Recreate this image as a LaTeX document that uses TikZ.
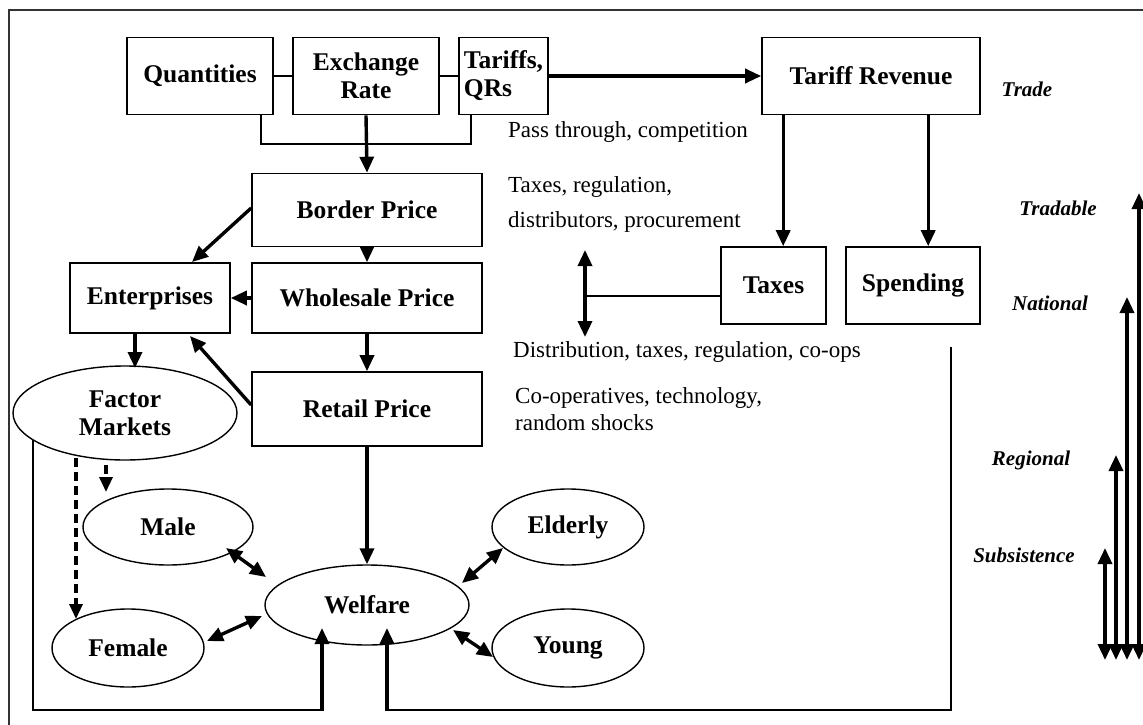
\documentclass[tikz,border=0pt]{standalone}
\usepackage{fontspec}
\setmainfont{Liberation Serif}
\usetikzlibrary{shapes.geometric,arrows.meta,calc}
\newcommand{\bfl}{\fontsize{25.5}{28}\selectfont\bfseries}
\newcommand{\rgl}{\fontsize{23}{27}\selectfont}
\newcommand{\itl}{\fontsize{21}{24}\selectfont\bfseries\itshape}
\begin{document}
\begin{tikzpicture}[x=1pt,y=-1pt,
 box/.style={draw,line width=1.6pt,inner sep=0pt,align=center,font=\bfl},
 ell/.style={ellipse,draw,line width=1.4pt,inner sep=0pt,align=center,font=\bfl},
 arr/.style={line width=3.4pt,-{Triangle[length=16pt,width=14pt]}},
 darr/.style={line width=3.4pt,{Triangle[length=16pt,width=14pt]}-{Triangle[length=16pt,width=14pt]}},
 dasharr/.style={line width=3.2pt,dash pattern=on 9pt off 5pt,-{Triangle[length=15pt,width=13pt]}},
 plain/.style={line width=1.6pt},
 lbl/.style={font=\rgl,anchor=west,inner sep=0pt},
 side/.style={font=\itl,inner sep=0pt}]
\useasboundingbox (0,0) rectangle (1143,725);
% outer frame
\draw[line width=2.8pt,black!80] (9,725) -- (9,10) -- (1143,10);
% top boxes
\node[box,minimum width=146pt,minimum height=77pt] (q) at (200,76) {Quantities};
\node[box,minimum width=146pt,minimum height=77pt] (er) at (366,76) {Exchange\\Rate};
\node[box,minimum width=89pt,minimum height=77pt,align=left] (tq) at (503.5,76) {Tariffs,\\QRs};
\node[box,minimum width=218pt,minimum height=77pt] (tr) at (871,76) {Tariff Revenue};
% price chain
\node[box,minimum width=230pt,minimum height=73pt] (bp) at (367,210) {Border Price};
\node[box,minimum width=230pt,minimum height=70pt] (wp) at (367,298) {Wholesale Price};
\node[box,minimum width=160pt,minimum height=70pt] (ent) at (150,298) {Enterprises};
\node[box,minimum width=230pt,minimum height=74pt] (rp) at (367,409) {Retail Price};
\node[box,minimum width=105pt,minimum height=77pt] (tx) at (773.5,285.5) {Taxes};
\node[box,minimum width=134pt,minimum height=77pt] (sp) at (913,285.5) {Spending};
% ellipses
\node[ell,minimum width=224pt,minimum height=94pt] (fm) at (125,413) {Factor\\Markets};
\node[ell,minimum width=170pt,minimum height=76pt] (male) at (168,527) {Male};
\node[ell,minimum width=152pt,minimum height=78pt] (fem) at (128,648) {Female};
\node[ell,minimum width=204pt,minimum height=80pt] (wel) at (367,605) {Welfare};
\node[ell,minimum width=152pt,minimum height=76pt] (eld) at (568,527) {Elderly};
\node[ell,minimum width=152pt,minimum height=78pt] (yng) at (568,648) {Young};
% text labels
\node[lbl] (t1) at (508,132) {Pass through, competition};
\node[lbl] (t2) at (508,187) {Taxes, regulation,};
\node[lbl] (t3) at (508,222) {distributors, procurement};
\node[lbl] (t4) at (513,352) {Distribution, taxes, regulation, co-ops};
\node[lbl] (t5) at (515,398) {Co-operatives, technology,};
\node[lbl] (t6) at (515,423) {random shocks};
% side labels
\node[side] (s1) at (1027,89) {Trade};
\node[side] (s2) at (1058,208) {Tradable};
\node[side] (s3) at (1050,303) {National};
\node[side] (s4) at (1031,460) {Regional};
\node[side] (s5) at (1024,555) {Subsistence};
% top connections
\draw[plain] (q.east) -- (er.west);
\draw[plain] (er.east) -- (tq.west);
\path (q.south east) ++(-13,0) coordinate (qb);
\path (tq.south west) ++(13,0) coordinate (tb);
\draw[plain] (qb) -- (qb |- 0,144) -- (tb |- 0,144) -- (tb);
\draw[arr] (er.south) -- (bp.north);
\draw[arr] (tq.east) -- (tr.west);
\path (tr.south west) ++(22,0) coordinate (tr1);
\path (tr.south west) ++(167,0) coordinate (tr2);
\draw[arr] (tr1) -- (tr1 |- tx.north);
\draw[arr] (tr2) -- (tr2 |- sp.north);
% price chain arrows
\draw[arr] (bp.south) -- (wp.north);
\draw[arr] (wp.south) -- (rp.north);
\draw[arr] (rp.south) -- (wel.north);
\draw[arr] (wp.west) -- (ent.east);
\draw[arr] (bp.west |- 0,208) -- (192,262);
\draw[arr] (rp.west |- 0,405) -- (190,336);
\draw[arr] (ent.south -| 135,0) -- (135,368);
% taxes double arrow
\coordinate (dv1) at (585,250);
\coordinate (dv2) at (585,337);
\draw[darr] (dv1) -- (dv2);
\draw[plain] (585,296) -- (tx.west |- 0,296);
% factor markets dashed
\draw[dasharr] (106,465) -- (106,492);
\draw[dasharr] (76,458) -- (76,619);
% welfare double arrows
\coordinate (mw1) at (226,548);
\coordinate (mw2) at (266,577);
\coordinate (fw1) at (207,641);
\coordinate (fw2) at (262,616);
\coordinate (ew1) at (503,548);
\coordinate (ew2) at (462,583);
\coordinate (yw1) at (493,657);
\coordinate (yw2) at (453,630);
\draw[darr] (mw1) -- (mw2);
\draw[darr] (fw1) -- (fw2);
\draw[darr] (ew1) -- (ew2);
\draw[darr] (yw1) -- (yw2);
% loops
\coordinate (lb) at (33,440);
\draw[plain] (lb) -- (33,710) -- (322,710);
\draw[arr] (322,711) -- (322,628);
\coordinate (rb) at (951,347);
\draw[plain] (rb) -- (951,710) -- (387,710);
\draw[arr] (387,711) -- (387,628);
% right scale arrows
\draw[darr] (1105,660) -- (1105,548);
\draw[darr] (1116,660) -- (1116,455);
\draw[darr] (1127,660) -- (1127,297);
\draw[darr] (1139,660) -- (1139,193);
\end{tikzpicture}
\end{document}
